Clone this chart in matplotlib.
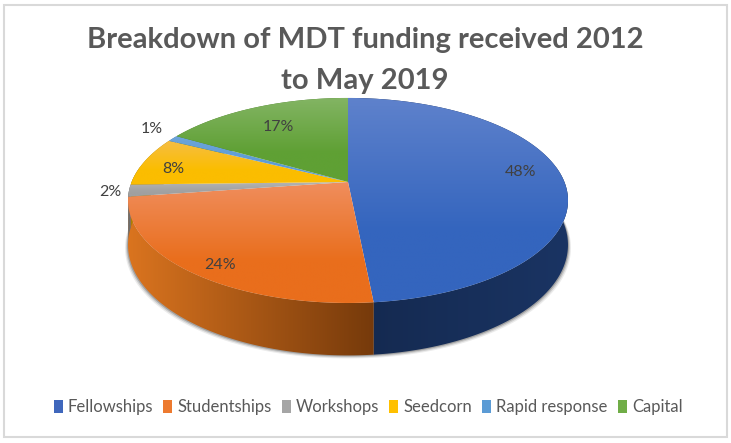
import numpy as np
import matplotlib
matplotlib.use("Agg")
import matplotlib.pyplot as plt
from matplotlib.patches import Patch, Polygon, Rectangle
from matplotlib.colors import LinearSegmentedColormap

# ---- data ----
categories = ["Fellowships", "Studentships", "Workshops", "Seedcorn", "Rapid response", "Capital"]
values = [48.45, 24.25, 1.9, 7.8, 1.0, 16.6]
title_lines = ["Breakdown of MDT funding received 2012", "to May 2019"]

# ---- style ----
legend_colors = ["#3F67BC", "#ED7A2F", "#A5A5A5", "#FFC000", "#5B9BD5", "#70AD47"]
top_light = ["#5F82CC", "#F08E5E", "#B5B5B5", "#F6BE45", "#6FA5DA", "#84B565"]
top_dark = ["#3465BE", "#E96E1C", "#A0A0A0", "#FBBD00", "#5B9BD5", "#5FA034"]
side_left = ["#14294F", "#DA741F", "#6E6E6E", "#A88000", "#3D6C96", "#4A7A2C"]
side_right = ["#1A3463", "#763A0B", "#6E6E6E", "#A88000", "#3D6C96", "#4A7A2C"]
label_radius = [0.80, 0.90, 1.10, 0.85, 1.15, 0.75]
label_nudge_x = [1, 10, 4, -1, 3, 3]
label_nudge_y = [-6, 2, 1, 5, -4, 3]
CX, CY = 348, 182
K, A, B = 0.18, 99.2, 216.4
TOP, BOTTOM = 98, 303
DEPTH = 43

fig = plt.figure(figsize=(7.31, 4.43), dpi=100, facecolor="white")
ax = fig.add_axes([0, 0, 1, 1])
ax.set_xlim(0, 731)
ax.set_ylim(443, 0)
ax.axis("off")
plt.rcParams["font.family"] = ["Lato", "DejaVu Sans"]


def project(theta, r=1.0, drop=0.0):
    """Clockwise angle from 12 o'clock on the disc to picture coordinates."""
    u, v = r * np.sin(theta), r * np.cos(theta)
    d = 1 + K * v
    return CX + B * u / d, CY - A * v / d + drop * DEPTH / d


def fill_top(poly_xy, c0, c1, zorder):
    cmap = LinearSegmentedColormap.from_list("g", [(0, c0), (0.65, c1), (1, c1)])
    grad = np.linspace(0, 1, 256).reshape(-1, 1)
    im = ax.imshow(grad, cmap=cmap,
                   extent=(poly_xy[:, 0].min() - 1, poly_xy[:, 0].max() + 1,
                           poly_xy[:, 1].max() + 1, poly_xy[:, 1].min() - 1),
                   aspect="auto", zorder=zorder, interpolation="bilinear", vmin=0, vmax=1)
    patch = Polygon(poly_xy, closed=True, transform=ax.transData, fc="none", ec="none")
    ax.add_patch(patch)
    im.set_clip_path(patch)


def fill_side(poly_xy, c0, c1, zorder):
    cmap = LinearSegmentedColormap.from_list("g", [c0, c1])
    grad = np.linspace(0, 1, 256).reshape(1, -1)
    xs = poly_xy[:, 0]
    im = ax.imshow(grad, cmap=cmap, extent=(xs.min(), xs.max(), BOTTOM + 55, TOP),
                   aspect="auto", zorder=zorder, interpolation="bilinear", vmin=0, vmax=1)
    patch = Polygon(poly_xy, closed=True, transform=ax.transData, fc="none", ec="none")
    ax.add_patch(patch)
    im.set_clip_path(patch)


fracs = np.array(values) / sum(values)
edges = np.concatenate([[0], np.cumsum(fracs)]) * 2 * np.pi

# soft shadow under the wall
ring = np.linspace(np.pi * 0.45, np.pi * 1.55, 200)
for off, alpha in [(3.0, 0.10), (2.0, 0.18), (1.0, 0.30)]:
    xb, yb = project(ring, drop=1.0)
    xt, yt = project(ring[::-1], drop=0.0)
    pts = np.column_stack([np.r_[xb + np.sign(np.sin(ring)) * off, xt], np.r_[yb + off, yt]])
    ax.add_patch(Polygon(pts, closed=True, fc="#404040", ec="none", alpha=alpha, zorder=1))

# side walls
for i in range(len(values)):
    th = np.linspace(edges[i], edges[i + 1], 120)
    xt, yt = project(th)
    xb, yb = project(th[::-1], drop=1.0)
    poly = np.column_stack([np.r_[xt, xb], np.r_[yt, yb]])
    fill_side(poly, side_left[i], side_right[i], 2)

# top faces
for i in range(len(values)):
    th = np.linspace(edges[i], edges[i + 1], 160)
    xt, yt = project(th)
    poly = np.column_stack([np.r_[CX, xt], np.r_[CY, yt]])
    fill_top(poly, top_light[i], top_dark[i], 3)

# percentage labels
for i, v in enumerate(values):
    mid = (edges[i] + edges[i + 1]) / 2
    x, y = project(mid, r=label_radius[i])
    ax.text(x + label_nudge_x[i], y + label_nudge_y[i], f"{round(v)}%", ha="center", va="center",
            fontsize=11.5, color="#404040", zorder=5)

# title
ax.text(365, 40, title_lines[0], ha="center", va="center", fontsize=21,
        fontweight="bold", color="#595959", zorder=5)
ax.text(365, 81, title_lines[1], ha="center", va="center", fontsize=21,
        fontweight="bold", color="#595959", zorder=5)

# chart frame
ax.add_patch(Rectangle((4, 5), 723, 432, fc="none", ec="#D9D9D9", lw=1.5, zorder=6))

ax.set_xlim(0, 731)
ax.set_ylim(443, 0)

handles = [Patch(fc=c, ec="none") for c in legend_colors]
fig.legend(handles, categories, ncol=6, loc="center", bbox_to_anchor=(368 / 731, 1 - 407 / 443),
           frameon=False, fontsize=12, labelcolor="#595959", handlelength=0.55, handleheight=0.8,
           handletextpad=0.3, columnspacing=0.6, borderpad=0)
fig.savefig("out.png", dpi=100, facecolor="white")
